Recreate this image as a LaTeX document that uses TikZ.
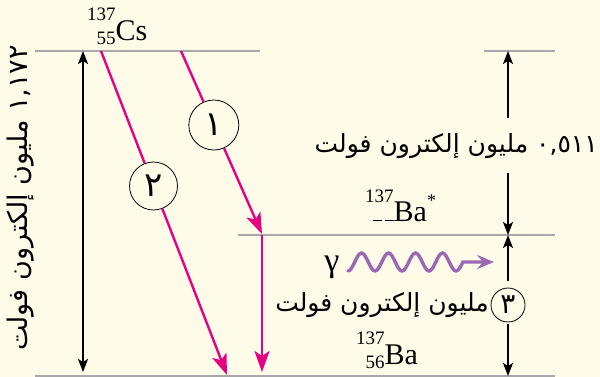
\documentclass[tikz,border=0pt]{standalone}
\usepackage{fontspec}
\setmainfont{Liberation Serif}
\newfontfamily\arabicfont[Script=Arabic]{DejaVu Sans}
\TeXXeTstate=1
\usetikzlibrary{arrows.meta}
\definecolor{bg}{RGB}{254,252,233}
\definecolor{lvl}{RGB}{168,168,168}
\definecolor{mag}{RGB}{230,0,130}
\definecolor{gam}{RGB}{155,105,180}
\newcommand\nuc[3]{\raisebox{-4pt}{\fontsize{19}{24}\selectfont\begin{tabular}[b]{@{}r@{}}#1\\#2\end{tabular}}#3}
\newcommand\twodash{\rule[5pt]{9pt}{1pt}\hspace{3pt}\rule[5pt]{9pt}{1pt}}
\tikzset{
  level/.style={draw=lvl, line width=1.4pt},
  blk/.style={draw=black, line width=1.8pt, -{Stealth[length=13pt,width=10pt,inset=3pt]}},
  magarrow/.style={draw=mag, line width=2.4pt, -{Stealth[length=21pt,width=15pt,inset=5pt]}},
  magline/.style={draw=mag, line width=2.4pt},
  numcirc/.style={circle, draw=black, line width=0.8pt, fill=bg, inner sep=0pt, font=\arabicfont\fontsize{34}{38}\selectfont},
  isolabel/.style={inner sep=0pt, font=\fontsize{30}{34}\selectfont},
  arlabel/.style={inner sep=0pt, font=\arabicfont\fontsize{25}{30}\selectfont},
  wave/.style={draw=gam, line width=3.4pt, line cap=round,
    -{Stealth[length=17pt,width=14pt,inset=6pt]}},
}
\begin{document}
\begin{tikzpicture}[x=1pt,y=-1pt]
\fill[bg] (0,0) rectangle (600,377);
\useasboundingbox (0,0) rectangle (600,377);

% energy levels
\coordinate (t1) at (35,51);
\coordinate (t2) at (260,51);
\coordinate (t3) at (484,51);
\coordinate (t4) at (555,51);
\coordinate (m1) at (238,235);
\coordinate (m2) at (555,235);
\coordinate (b1) at (35,376);
\coordinate (b2) at (555,376);
\draw[level] (t1) -- (t2);
\draw[level] (t3) -- (t4);
\draw[level] (m1) -- (m2);
\draw[level] (b1) -- (b2);

% isotope labels
\node[isolabel, anchor=base west] (cs) at (87,41) {\nuc{137}{55}{Cs}};
\node[isolabel, anchor=base west] (bastar) at (365,222) {\nuc{137}{\twodash}{Ba}\raisebox{15pt}{\fontsize{18}{18}\selectfont *}};
\node[isolabel, anchor=base west] (ba) at (356,364) {\nuc{137}{56}{Ba}};

% left black double arrow
\coordinate (lt) at (83,51);
\coordinate (lb) at (83,372);
\draw[blk, {Stealth[length=13pt,width=10pt,inset=3pt]}-{Stealth[length=13pt,width=10pt,inset=3pt]}] (lt) -- (lb);
\node[arlabel, rotate=90, font=\arabicfont\fontsize{27}{30}\selectfont] (lbl) at (21,198)
  {\beginR\beginL ١,١٧٢\endL{} مليون إلكترون فولت\endR};

% magenta transitions
\coordinate (p2s) at (101,51);
\coordinate (p2e) at (227,375);
\node[numcirc, minimum size=48pt] (c2) at (153.5,186) {٢};
\draw[magline] (p2s) -- (c2);
\draw[magarrow] (c2) -- (p2e);

\coordinate (p1s) at (181,51);
\coordinate (p1e) at (262,234);
\node[numcirc, minimum size=50pt] (c1) at (213.8,125) {١};
\draw[magline] (p1s) -- (c1);
\draw[magarrow] (c1) -- (p1e);

\coordinate (p3s) at (262,235);
\coordinate (p3e) at (262,372);
\draw[magarrow] (p3s) -- (p3e);

% right side: 0.511 MeV
\node[arlabel, anchor=east] (r1) at (598,146)
  {\beginR\beginL ٠,٥١١\endL{} مليون إلكترون فولت\endR};
\coordinate (ra) at (508,118);
\coordinate (rb) at (508,173);
\coordinate (rt) at (508,51);
\coordinate (rm) at (508,235);
\coordinate (rbot) at (508,376);
\draw[blk] (ra) -- (rt);
\draw[blk] (rb) -- (rm);

% right side: gamma
\node[numcirc, minimum size=34pt, font=\arabicfont\fontsize{28}{32}\selectfont] (c3) at (508,305) {٣};
\draw[blk, shorten <=7pt] (c3.north) -- (rm);
\draw[blk, shorten <=2pt] (c3.south) -- (rbot);
\node[arlabel, anchor=east] (r3) at (489,305)
  {\beginR مليون إلكترون فولت\endR};

\node[inner sep=0pt, anchor=base, font=\fontsize{34}{38}\selectfont] (g) at (332,271) {γ};
\coordinate (gs) at (348,271);
\coordinate (ge) at (494,262);
\draw[wave] (gs)
  cos ++(6.75,-9) sin ++(6.75,-9) cos ++(6.75,9) sin ++(6.75,9)
  cos ++(6.75,-9) sin ++(6.75,-9) cos ++(6.75,9) sin ++(6.75,9)
  cos ++(6.75,-9) sin ++(6.75,-9) cos ++(6.75,9) sin ++(6.75,9)
  cos ++(6.75,-9) sin ++(6.75,-9) cos ++(6.75,9) sin ++(6.75,9)
  cos ++(7,-9) -- (ge);
\end{tikzpicture}
\end{document}
